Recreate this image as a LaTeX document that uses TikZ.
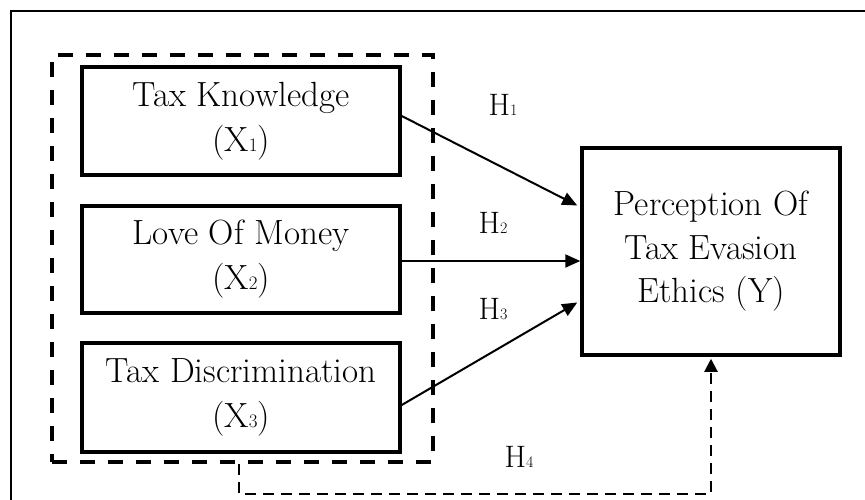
\documentclass[tikz,border=0pt]{standalone}
\usetikzlibrary{arrows.meta}
\newcommand\smalldig[2]{{\fontsize{#1}{#1}\selectfont #2}}
\begin{document}
\begin{tikzpicture}[x=1pt,y=-1pt,
  varbox/.style={draw, line width=3.5pt, rectangle, minimum width=318pt, minimum height=108pt,
    align=center, inner sep=0pt, font=\fontsize{35}{45}\selectfont},
  depbox/.style={draw, line width=3.5pt, rectangle, minimum width=258pt, minimum height=207pt,
    align=center, inner sep=0pt, font=\fontsize{35}{43.5}\selectfont},
  grpbox/.style={draw, line width=3.5pt, rectangle, dash pattern=on 15pt off 13pt,
    minimum width=381pt, minimum height=407pt, inner sep=0pt},
  hyp/.style={line width=2pt, -{Triangle[length=15pt,width=13pt]}},
  hypd/.style={line width=2pt, dash pattern=on 11pt off 7pt, -{Triangle[length=13pt,width=13pt]}},
  hlab/.style={font=\fontsize{31}{31}\selectfont, inner sep=0pt},
  frameline/.style={line width=2.2pt}
]
\useasboundingbox (0,0) rectangle (865,500);
\coordinate (fbl) at (11,502);
\coordinate (ftl) at (11,11);
\coordinate (ftr) at (867,11);
\draw[frameline] (fbl) -- (ftl) -- (ftr);

\node[grpbox] (grp) at (242.5,258.5) {};
\node[varbox] (b1) at (241,121) {Tax Knowledge\\(X\smalldig{19}{1})};
\node[varbox, minimum height=107pt] (b2) at (241,259.5) {Love Of Money\\(X\smalldig{19}{2})};
\node[varbox, minimum height=109pt] (b3) at (241,397.5) {Tax Discrimination\\(X\smalldig{19}{3})};
\node[depbox] (y) at (711,251.5) {Perception Of\\Tax Evasion\\Ethics (Y)};

\draw[hyp] ([yshift=5pt]b1.east) -- ([yshift=46pt,xshift=-3pt]y.west);
\draw[hyp] ([yshift=-1.5pt]b2.east) -- ([yshift=-1.5pt]b2.east -| y.west);
\draw[hyp] ([yshift=-7.5pt]b3.east) -- ([yshift=-51pt,xshift=-3pt]y.west);
\draw[hypd] ([xshift=-3.5pt]grp.south) -- ++(0,30) -| ([yshift=-2pt]y.south);

\node[hlab] (h1) at (503,105) {H\smalldig{16}{1}};
\node[hlab] (h2) at (493,223) {H\smalldig{16}{2}};
\node[hlab] (h3) at (493,309) {H\smalldig{16}{3}};
\node[hlab] (h4) at (519,457) {H\smalldig{16}{4}};
\end{tikzpicture}
\end{document}
